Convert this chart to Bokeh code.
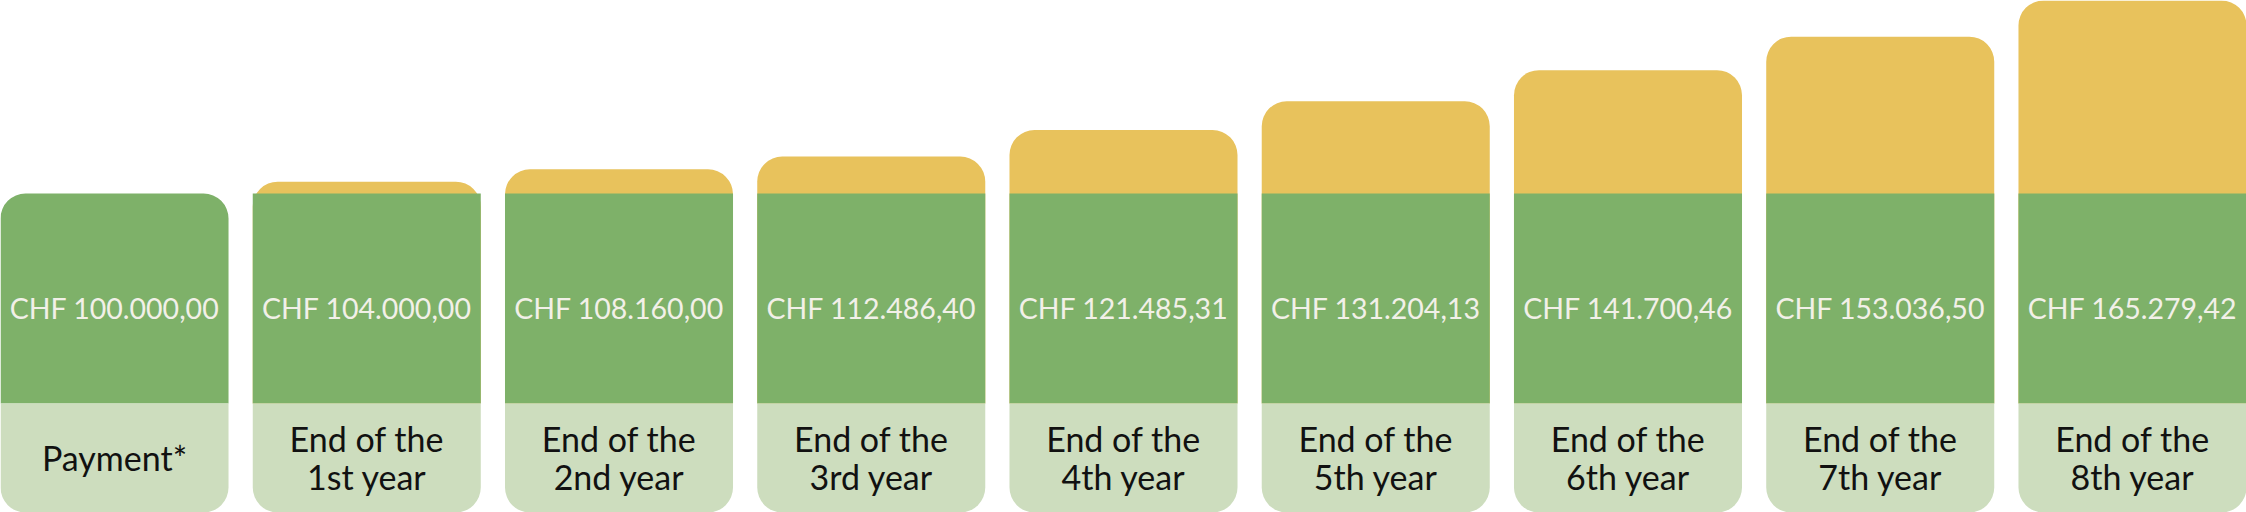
from bokeh.plotting import figure
from bokeh.models import ColumnDataSource, Range1d
from bokeh.core.properties import value
from bokeh.embed import file_html
from bokeh.resources import INLINE

# ---- data ----
categories = ["Payment*", "End of the\n1st year", "End of the\n2nd year", "End of the\n3rd year",
              "End of the\n4th year", "End of the\n5th year", "End of the\n6th year",
              "End of the\n7th year", "End of the\n8th year"]
amounts = [100000.00, 104000.00, 108160.00, 112486.40, 121485.31,
           131204.13, 141700.46, 153036.50, 165279.42]

def chf(v):
    s = f"{v:,.2f}"
    s = s.replace(",", "X").replace(".", ",").replace("X", ".")
    return "CHF " + s

# ---- layout (pixels of the reference, 2246x512) ----
W, H = 2246, 512
payment = amounts[0]
top_val = max(amounts)
green_top_px = 193.0            # reference pixel where the payment level sits
k = green_top_px / (top_val - payment)   # pixels per CHF
def px_to_y(px):
    return payment - (px - green_top_px) / k

green_bottom = px_to_y(403)
label_bottom = px_to_y(512)
value_text_y = px_to_y(307)
label_text_y = px_to_y(457)

n = len(amounts)
xs = list(range(n))
bar_w = 0.904
half = bar_w / 2

GREEN = "#7eb169"
YELLOW = "#e8c25c"
LIGHT = "#cdddbe"

src = ColumnDataSource(dict(
    x=xs,
    top=amounts,
    color=[YELLOW if a > payment else GREEN for a in amounts],
    vlabel=[chf(a) for a in amounts],
    cat=categories,
))

p = figure(width=W, height=H, output_backend="svg", toolbar_location=None,
           x_range=Range1d(-half, n - 1 + half), y_range=Range1d(label_bottom, top_val),
           min_border=0, min_border_left=0, min_border_right=0,
           min_border_top=0, min_border_bottom=0)
p.axis.visible = False
p.grid.visible = False
p.outline_line_color = None
p.background_fill_color = "white"
p.border_fill_color = "white"

r = 25
# top block: growth (yellow) or payment (green) with rounded top corners
p.vbar(x="x", top="top", bottom=green_bottom, width=bar_w, source=src,
       fill_color="color", line_color=None, border_radius=(r, r, 0, 0))
# green payment block (square) for bars that have growth above it
gsrc = ColumnDataSource(dict(x=xs[1:], top=[payment] * (n - 1)))
p.vbar(x="x", top="top", bottom=green_bottom, width=bar_w, source=gsrc,
       fill_color=GREEN, line_color=None)
# label block with rounded bottom corners
p.vbar(x="x", top=green_bottom, bottom=label_bottom, width=bar_w, source=src,
       fill_color=LIGHT, line_color=None, border_radius=(0, 0, r, r))

p.text(x="x", y=value_text_y, text="vlabel", source=src,
       text_align="center", text_baseline="middle",
       text_font=value("Lato"), text_font_size="28.5px", text_color="#f2f0e8")
p.text(x="x", y=label_text_y, text="cat", source=src,
       text_align="center", text_baseline="middle", text_line_height=0.92,
       text_font=value("Lato"), text_font_size="34px", text_color="#111111")

open("out.html", "w").write(file_html(p, INLINE))
